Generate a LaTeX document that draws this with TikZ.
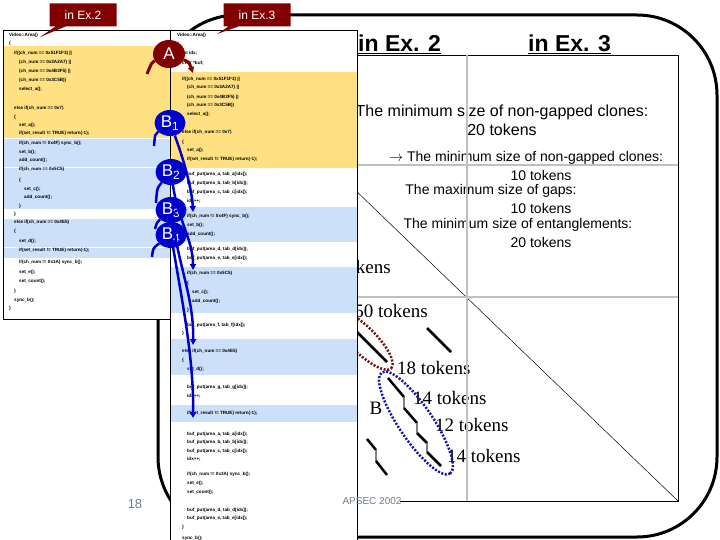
\documentclass[tikz,border=0pt]{standalone}
\usepackage{fontspec}
\setmainfont{Liberation Sans}
\newfontfamily\timesface{Liberation Serif}
\usetikzlibrary{shapes.geometric,shapes.callouts,arrows.meta}
\definecolor{exred}{RGB}{128,0,0}
\definecolor{exblue}{RGB}{0,0,204}
\definecolor{cloneyellow}{RGB}{255,224,130}
\definecolor{cloneblue}{RGB}{204,224,250}
\definecolor{gridgray}{RGB}{192,192,192}
\definecolor{slidegray}{RGB}{110,125,140}
\definecolor{dotred}{RGB}{110,20,20}
\definecolor{dotblue}{RGB}{20,20,160}

\tikzset{
  codeline/.style={anchor=west, inner sep=0pt, font=\fontsize{4.6}{5}\selectfont\bfseries},
  note/.style={inner sep=0pt, font=\fontsize{14}{16}\selectfont},
  toklabel/.style={anchor=west, inner sep=0pt, font=\timesface\fontsize{19}{21}\selectfont},
  hit/.style={line width=2.5pt},
  gap/.style={line width=2.5pt, gray},
  exbadge/.style={rectangle callout, fill=exred, text=white, minimum width=67pt, minimum height=23pt,
    inner sep=2pt, font=\fontsize{12}{14}\selectfont, callout pointer width=10pt},
  cloneA/.style={ellipse, fill=exred, text=white, minimum width=32pt, minimum height=28pt,
    inner sep=0pt, font=\fontsize{17}{19}\selectfont},
  cloneB/.style={ellipse, fill=exblue, text=white, minimum width=31pt, minimum height=26pt,
    inner sep=0pt, font=\fontsize{17}{19}\selectfont},
  redlink/.style={exred, line width=3pt},
  bluelink/.style={exblue, line width=2.5pt},
}

\begin{document}
\begin{tikzpicture}[x=1pt, y=-1pt]
\useasboundingbox (0,0) rectangle (720,540);
\fill[white] (0,0) rectangle (720,540);

% slide frame
\draw[line width=3pt, rounded corners=80pt] (158,15) rectangle (717,537);

% dot plot
\draw[line width=0.8pt] (215,55) -- (678,55) -- (678,501) -- (400,501);
\draw[line width=0.5pt] (215,55) -- (678,501);

\node[anchor=base west, inner sep=0pt, font=\bfseries\fontsize{23}{27}\selectfont] (ex2title) at (358,52) {\underline{in Ex. 2}};
\node[anchor=base west, inner sep=0pt, font=\bfseries\fontsize{23}{27}\selectfont] (ex3title) at (528,52) {\underline{in Ex. 3}};

\node[inner sep=0pt, font=\fontsize{16}{18}\selectfont] (oldmin) at (502,112) {The minimum size of non-gapped clones:};
\node[inner sep=0pt, font=\fontsize{16}{18}\selectfont] (oldtok) at (502,130) {20 tokens};

\foreach \n/\cx/\cy/\t in {1/526/158/{$\rightarrow$ The minimum size of non-gapped clones:},
    2/541/175/{10 tokens}, 3/491/191/{The maximum size of gaps:}, 4/541/208/{10 tokens},
    5/518/225/{The minimum size of entanglements:}, 6/541/242/{20 tokens}}
  \node[note] (cond\n) at (\cx,\cy) {\t};

\node[toklabel, anchor=east] (tokhid) at (391,267) {tokens};
\node[toklabel, anchor=east] (tok50) at (428,311) {50 tokens};
\node[toklabel] (tok18) at (397,368) {18 tokens};
\node[toklabel] (tok14a) at (413,398) {14 tokens};
\node[toklabel] (tok12) at (435,425) {12 tokens};
\node[toklabel] (tok14b) at (447,456) {14 tokens};
\node[toklabel, anchor=center] (labB) at (376,408) {B};

% grid
\draw[gridgray, line width=2pt] (467,55) -- (467,501);
\draw[gridgray, line width=2pt] (215,165) -- (678,165);
\draw[gridgray, line width=2pt] (215,297) -- (678,297);

% matches
\draw[hit] (427,328) -- (451,352);
\draw[hit] (340,315) -- (387,362);
\draw[hit] (388,378) -- (404,397);
\draw[gap] (404,397) -- (404,408);
\draw[hit] (404,408) -- (417,423);
\draw[gap] (417,423) -- (417,433);
\draw[hit] (417,433) -- (427,443);
\draw[gap] (427,443) -- (427,452);
\draw[hit] (427,452) -- (441,466);
\draw[hit] (367,439) -- (376,450);
\draw[gap] (376,450) -- (376,461);
\draw[hit] (376,461) -- (387,475);

\draw[dotred, line width=2.5pt, dash pattern=on 2pt off 1.6pt] (363,340) ellipse [x radius=40pt, y radius=13pt, rotate=-45];
\draw[dotblue, line width=2.5pt, dash pattern=on 2pt off 1.6pt] (416,423) ellipse [x radius=61pt, y radius=17pt, rotate=-56];

\node[inner sep=0pt, text=slidegray, font=\fontsize{13}{15}\selectfont] (pageno) at (135,504) {18};

% Ex. 2 listing
\fill[white] (3,30) rectangle (170,319);
\fill[cloneyellow] (3,46) rectangle (170,138);
\foreach \t/\b in {139/167, 168/209, 219/247, 248/258}
  \fill[cloneblue] (3,\t) rectangle (170,\b);
\foreach \y/\i/\t in {35/0/{Video::Area()}, 43/0/{\{}, 53/1/{if((ch\_num == 0x51F1F3) ||},
    62/2/{(ch\_num == 0x3A2A7) ||}, 71/2/{(ch\_num == 0x4B3F5) ||}, 80/2/{(ch\_num == 0x3C5B))},
    89/2/{select\_a();}, 108/1/{else if(ch\_num == 0x7)}, 117/1/{\{}, 125/2/{set\_a();},
    133/2/{if(set\_result != TRUE) return(-1);}, 143/2/{if(ch\_num != 0x4F) sync\_b();},
    152/2/{set\_b();}, 160/2/{add\_count();}, 169/2/{if(ch\_num == 0x5C5)}, 180/2/{\{},
    189/3/{set\_c();}, 197/3/{add\_count();}, 206/2/{\}}, 214/1/{\}},
    222/1/{else if(ch\_num == 0x4E5)}, 231/1/{\{}, 241/2/{set\_d();},
    250/2/{if(set\_result != TRUE) return(-1);}, 262/2/{if(ch\_num != 0x3A) sync\_b();},
    272/2/{set\_e();}, 281/2/{set\_count();}, 291/1/{\}}, 300/1/{sync\_b();}, 308/0/{\}}}
  \node[codeline] (exiiline\y) at (9+5*\i,\y) {\t};
\draw[line width=0.8pt] (3,30) rectangle (170,319);

% Ex. 3 listing
\fill[white] (170,30) rectangle (357,548);
\fill[cloneyellow] (170,72) rectangle (357,168);
\foreach \t/\b in {207/242, 267/313, 339/375, 405/422}
  \fill[cloneblue] (170,\t) rectangle (357,\b);
\foreach \y/\i/\t in {35/0/{Video::Area()}, 44/0/{\{}, 53/1/{int idx;}, 63/1/{char *buf;},
    79/1/{if((ch\_num == 0x51F1F3) ||}, 87/2/{(ch\_num == 0x3A2A7) ||},
    97/2/{(ch\_num == 0x4B3F5) ||}, 105/2/{(ch\_num == 0x3C5B))}, 114/2/{select\_a();},
    132/1/{else if(ch\_num == 0x7)}, 142/1/{\{}, 150/2/{set\_a();},
    159/2/{if(set\_result != TRUE) return(-1);}, 174/2/{buf\_put(area\_a, tab\_a[idx]);},
    183/2/{buf\_put(area\_b, tab\_b[idx]);}, 192/2/{buf\_put(area\_c, tab\_c[idx]);}, 201/2/{idx++;},
    216/2/{if(ch\_num != 0x4F) sync\_b();}, 225/2/{set\_b();}, 234/2/{add\_count();},
    249/2/{buf\_put(area\_d, tab\_d[idx]);}, 258/2/{buf\_put(area\_e, tab\_e[idx]);},
    273/2/{if(ch\_num == 0x5C5)}, 283/2/{\{}, 292/3/{set\_c();}, 301/3/{add\_count();}, 310/2/{\}},
    325/2/{buf\_put(area\_f, tab\_f[idx]);}, 333/1/{\}}, 351/1/{else if(ch\_num == 0x4E5)},
    360/1/{\{}, 369/2/{set\_d();}, 387/2/{buf\_put(area\_g, tab\_g[idx]);}, 396/2/{idx++;},
    413/2/{if(set\_result != TRUE) return(-1);}, 434/2/{buf\_put(area\_a, tab\_a[idx]);},
    442/2/{buf\_put(area\_b, tab\_b[idx]);}, 451/2/{buf\_put(area\_c, tab\_c[idx]);}, 459/2/{idx++;},
    474/2/{if(ch\_num != 0x3A) sync\_b();}, 483/2/{set\_e();}, 492/2/{set\_count();},
    510/2/{buf\_put(area\_d, tab\_d[idx]);}, 518/2/{buf\_put(area\_e, tab\_e[idx]);},
    527/1/{\}}, 538/1/{sync\_b();}}
  \node[codeline] (exiiiline\y) at (177+5*\i,\y) {\t};
\draw[line width=0.8pt] (170,30) rectangle (357,548);

\node[inner sep=0pt, text=slidegray, font=\fontsize{10}{12}\selectfont] (venue) at (372,501) {APSEC 2002};

% callouts
\coordinate (ex2ptr) at (40,37);
\coordinate (ex3ptr) at (217,34);
\node[exbadge, callout absolute pointer={(ex2ptr)}] (ex2tag) at (83,15) {in Ex.2};
\node[exbadge, callout absolute pointer={(ex3ptr)}] (ex3tag) at (257,15) {in Ex.3};

\coordinate (a2) at (147,74);
\coordinate (a3) at (193,73);
\coordinate (b12) at (154,146);
\coordinate (b13) at (193,212);
\coordinate (b22) at (156,203);
\coordinate (b23) at (193,270);
\coordinate (b32) at (155,229);
\coordinate (b33) at (193,345);
\coordinate (b42) at (152,257);
\coordinate (b43) at (193,418);

\node[cloneA] (A) at (169,54) {A};
\node[cloneB] (B1) at (170,123) {B\textsubscript{1}};
\node[cloneB] (B2) at (171,172) {B\textsubscript{2}};
\node[cloneB] (B3) at (171,210) {B\textsubscript{3}};
\node[cloneB] (B4) at (171,235) {B\textsubscript{4}};

\draw[redlink] (A) .. controls (152,62) .. (a2);
\draw[redlink, -{Triangle[length=6pt,width=6pt]}] (A) .. controls (189,62) .. (a3);
\draw[bluelink] (B1) .. controls (155,134) .. (b12);
\draw[bluelink] (B2) .. controls (157,188) .. (b22);
\draw[bluelink] (B3) .. controls (157,222) .. (b32);
\draw[bluelink] (B4) .. controls (153,248) .. (b42);
\draw[bluelink, -{Triangle[length=6pt,width=6pt]}] (B1) .. controls (184,160) and (192,190) .. (b13);
\draw[bluelink, -{Triangle[length=6pt,width=6pt]}] (B2) .. controls (178,220) and (193,240) .. (b23);
\draw[bluelink, -{Triangle[length=6pt,width=6pt]}] (B3) .. controls (180,270) and (194,300) .. (b33);
\draw[bluelink, -{Triangle[length=6pt,width=6pt]}] (B4) .. controls (182,300) and (194,360) .. (b43);
\end{tikzpicture}
\end{document}
